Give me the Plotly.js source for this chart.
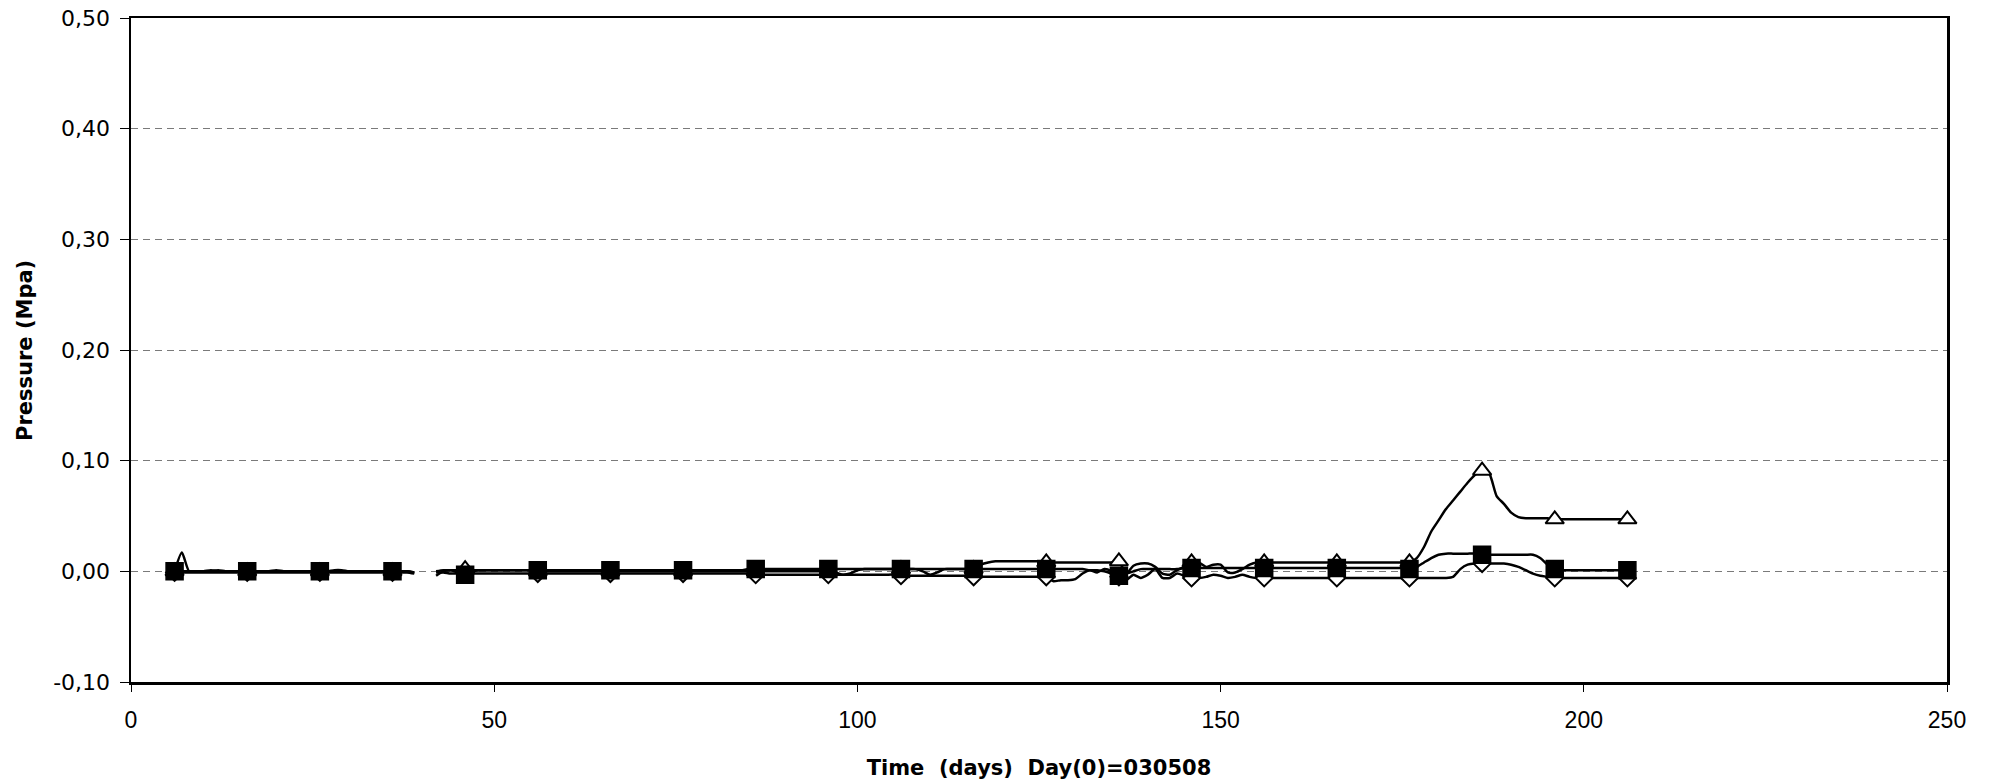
<!DOCTYPE html>
<html>
<head>
<meta charset="utf-8">
<script src="https://cdn.plot.ly/plotly-3.0.1.min.js"></script>
<style>html,body{margin:0;padding:0;background:#fff;}#chart{width:1995px;height:783px;}</style>
</head>
<body>
<div id="chart"></div>
<script>
// Day numbers (x) — daily readings, day 6 to 206
const days = [
  6,7,8,9,10,11,12,13,14,15,
  16,17,18,19,20,21,22,23,24,25,
  26,27,28,29,30,31,32,33,34,35,
  36,37,38,39,40,41,42,43,44,45,
  46,47,48,49,50,51,52,53,54,55,
  56,57,58,59,60,61,62,63,64,65,
  66,67,68,69,70,71,72,73,74,75,
  76,77,78,79,80,81,82,83,84,85,
  86,87,88,89,90,91,92,93,94,95,
  96,97,98,99,100,101,102,103,104,105,
  106,107,108,109,110,111,112,113,114,115,
  116,117,118,119,120,121,122,123,124,125,
  126,127,128,129,130,131,132,133,134,135,
  136,137,138,139,140,141,142,143,144,145,
  146,147,148,149,150,151,152,153,154,155,
  156,157,158,159,160,161,162,163,164,165,
  166,167,168,169,170,171,172,173,174,175,
  176,177,178,179,180,181,182,183,184,185,
  186,187,188,189,190,191,192,193,194,195,
  196,197,198,199,200,201,202,203,204,205,
  206
];

// Series drawn with filled squares (MPa)
const seriesSquare = [
  0.000,0.000,0.000,0.000,0.000,0.001,0.000,0.000,0.000,0.000,
  0.000,0.000,0.000,0.000,0.001,0.000,0.000,0.000,0.000,0.000,
  0.000,0.000,0.001,0.001,0.000,0.000,0.000,0.000,0.000,0.000,
  0.000,0.000,0.000,-0.001,null,null,-0.001,-0.001,-0.002,-0.002,
  -0.003,0.000,0.001,0.001,0.001,0.001,0.001,0.001,0.001,0.001,
  0.001,0.001,0.001,0.001,0.001,0.001,0.001,0.001,0.001,0.001,
  0.001,0.001,0.001,0.001,0.001,0.001,0.001,0.001,0.001,0.001,
  0.001,0.001,0.001,0.001,0.001,0.001,0.001,0.001,0.001,0.002,
  0.002,0.002,0.002,0.002,0.002,0.002,0.002,0.002,0.002,0.002,
  0.002,0.002,0.002,0.002,0.002,0.002,0.002,0.002,0.002,0.002,
  0.002,0.002,0.002,0.002,0.002,0.002,0.002,0.002,0.002,0.002,
  0.002,0.002,0.002,0.002,0.002,0.002,0.002,0.002,0.002,0.002,
  0.002,0.002,0.002,0.002,0.002,0.002,0.001,0.001,0.000,-0.002,
  -0.004,-0.002,0.000,0.002,0.002,0.002,0.002,0.002,0.002,0.003,
  0.003,0.003,0.003,0.003,0.003,0.003,0.003,0.003,0.003,0.003,
  0.003,0.003,0.003,0.003,0.003,0.003,0.003,0.003,0.003,0.003,
  0.003,0.003,0.003,0.003,0.003,0.003,0.003,0.003,0.003,0.003,
  0.002,0.004,0.008,0.012,0.015,0.016,0.016,0.016,0.016,0.016,
  0.015,0.015,0.015,0.015,0.015,0.015,0.015,0.015,0.012,0.006,
  0.002,0.001,0.001,0.001,0.001,0.001,0.001,0.001,0.001,0.001,
  0.001
];

// Series drawn with open triangles (MPa)
const seriesTriangle = [
  0.000,0.017,0.000,0.000,0.000,0.000,0.001,0.000,0.000,0.000,
  0.000,0.000,0.000,0.000,0.000,0.000,0.000,0.000,0.000,0.000,
  0.000,0.000,0.000,0.000,0.000,0.000,0.000,0.000,0.000,0.000,
  0.000,0.000,0.000,-0.001,null,null,0.000,0.001,0.001,0.001,
  0.002,0.001,0.001,0.001,0.001,0.001,0.001,0.001,0.001,0.001,
  0.000,0.000,0.000,0.000,0.000,0.000,0.000,0.000,0.000,0.000,
  0.000,0.000,0.000,0.000,0.000,0.000,0.000,0.000,0.000,0.000,
  0.000,0.000,0.000,0.000,0.000,0.000,0.000,0.000,0.000,0.000,
  0.000,0.000,0.000,0.000,0.000,0.000,0.000,0.000,0.000,0.000,
  0.000,-0.001,-0.003,-0.002,0.001,0.002,0.002,0.002,0.002,0.002,
  0.002,0.002,0.002,0.000,-0.003,-0.001,0.002,0.002,0.002,0.002,
  0.002,0.006,0.008,0.009,0.009,0.009,0.009,0.009,0.009,0.009,
  0.008,0.008,0.008,0.008,0.008,0.008,0.008,0.008,0.008,0.008,
  0.009,-0.002,0.005,0.007,0.007,0.004,-0.002,-0.003,0.001,0.004,
  0.008,0.008,0.004,0.006,0.006,-0.001,-0.001,0.002,0.006,0.008,
  0.008,0.008,0.008,0.008,0.008,0.008,0.008,0.008,0.008,0.008,
  0.008,0.008,0.008,0.008,0.008,0.008,0.008,0.008,0.008,0.008,
  0.008,0.012,0.022,0.036,0.046,0.056,0.064,0.072,0.080,0.087,
  0.091,0.088,0.068,0.061,0.053,0.049,0.048,0.048,0.048,0.048,
  0.047,0.047,0.047,0.047,0.047,0.047,0.047,0.047,0.047,0.047,
  0.047
];

// Series drawn with open diamonds (MPa)
const seriesDiamond = [
  -0.001,-0.001,-0.001,-0.001,-0.001,-0.001,-0.001,-0.001,-0.001,-0.001,
  -0.001,-0.001,-0.001,-0.001,-0.001,-0.001,-0.001,-0.001,-0.001,-0.001,
  -0.001,-0.001,-0.001,-0.001,-0.001,-0.001,-0.001,-0.001,-0.001,-0.001,
  -0.001,-0.001,-0.001,-0.002,null,null,-0.004,0.000,0.001,-0.001,
  -0.002,-0.002,-0.002,-0.002,-0.002,-0.002,-0.002,-0.002,-0.002,-0.002,
  -0.002,-0.002,-0.002,-0.002,-0.002,-0.002,-0.002,-0.002,-0.002,-0.002,
  -0.002,-0.002,-0.002,-0.002,-0.002,-0.002,-0.002,-0.002,-0.002,-0.002,
  -0.002,-0.002,-0.002,-0.002,-0.002,-0.002,-0.002,-0.002,-0.002,-0.002,
  -0.003,-0.003,-0.003,-0.003,-0.003,-0.003,-0.003,-0.003,-0.003,-0.003,
  -0.003,-0.003,-0.003,-0.003,-0.003,-0.003,-0.003,-0.003,-0.003,-0.003,
  -0.004,-0.004,-0.004,-0.004,-0.004,-0.004,-0.004,-0.004,-0.004,-0.004,
  -0.005,-0.005,-0.005,-0.005,-0.005,-0.005,-0.005,-0.005,-0.005,-0.005,
  -0.005,-0.009,-0.008,-0.008,-0.007,-0.002,0.001,-0.001,0.002,0.000,
  -0.005,-0.008,-0.003,-0.006,-0.003,0.002,-0.006,-0.006,-0.002,-0.004,
  -0.006,-0.006,-0.005,-0.003,-0.004,-0.006,-0.005,-0.003,-0.005,-0.006,
  -0.006,-0.006,-0.006,-0.006,-0.006,-0.006,-0.006,-0.006,-0.006,-0.006,
  -0.006,-0.006,-0.006,-0.006,-0.006,-0.006,-0.006,-0.006,-0.006,-0.006,
  -0.006,-0.006,-0.006,-0.006,-0.006,-0.006,-0.005,0.002,0.006,0.007,
  0.007,0.007,0.007,0.007,0.006,0.004,0.001,-0.002,-0.004,-0.005,
  -0.006,-0.006,-0.006,-0.006,-0.006,-0.006,-0.006,-0.006,-0.006,-0.006,
  -0.006
];

const yTickVals = [-0.1, 0.0, 0.1, 0.2, 0.3, 0.4, 0.5];
const yTickText = ['-0,10', '0,00', '0,10', '0,20', '0,30', '0,40', '0,50'];
const xTickVals = [0, 50, 100, 150, 200, 250];

// markers are shown every 10th day, starting at day 6
const markerStep = 10;
function markerPick(arr) {
  const xs = [], ys = [];
  for (let i = 0; i < days.length; i += markerStep) {
    if (arr[i] !== null) { xs.push(days[i]); ys.push(arr[i]); }
  }
  return {x: xs, y: ys};
}

const WIDE = 'DejaVu Sans, Verdana, sans-serif';
const NARROW = 'Liberation Sans Narrow, Arial Narrow, Liberation Sans, Arial, sans-serif';
const lineStyle = {color: '#000', width: 2.5, shape: 'spline', smoothing: 0.6};

const traces = [];
[seriesDiamond, seriesTriangle, seriesSquare].forEach(s => {
  traces.push({x: days, y: s, type: 'scatter', mode: 'lines', line: lineStyle,
               connectgaps: false, hoverinfo: 'skip', showlegend: false});
});
const mD = markerPick(seriesDiamond);
traces.push({x: mD.x, y: mD.y, type: 'scatter', mode: 'markers', showlegend: false,
  marker: {symbol: 'diamond', size: 13, color: '#fff', line: {color: '#000', width: 2}}});
const mT = markerPick(seriesTriangle);
traces.push({x: mT.x, y: mT.y, type: 'scatter', mode: 'markers', showlegend: false,
  marker: {symbol: 'triangle-up', size: 16, color: '#fff', line: {color: '#000', width: 2}}});
const mS = markerPick(seriesSquare);
traces.push({x: mS.x, y: mS.y, type: 'scatter', mode: 'markers', showlegend: false,
  marker: {symbol: 'square', size: 17, color: '#000', line: {color: '#000', width: 1.5}}});

const layout = {
  width: 1995, height: 783,
  margin: {l: 131, r: 48, t: 18, b: 101, pad: 0},
  paper_bgcolor: '#fff', plot_bgcolor: '#fff',
  showlegend: false,
  font: {family: WIDE, color: '#000', size: 20},
  xaxis: {
    range: [0, 250], tickvals: xTickVals, ticks: 'outside', ticklen: 7, tickwidth: 1, tickcolor: '#000',
    showline: true, mirror: true, linecolor: '#000', linewidth: 2.5,
    showgrid: false, zeroline: false, ticklabelstandoff: 9,
    tickfont: {family: NARROW, size: 23, color: '#000'},
    title: {text: 'Time\u00a0\u00a0(days)\u00a0\u00a0Day(0)=030508', standoff: 28,
            font: {family: WIDE, size: 21, color: '#000', weight: 'bold'}}
  },
  yaxis: {
    range: [-0.1, 0.5], tickvals: yTickVals, ticktext: yTickText,
    ticks: 'outside', ticklen: 9, tickwidth: 1, tickcolor: '#000',
    showline: true, mirror: true, linecolor: '#000', linewidth: 2.5,
    showgrid: true, gridcolor: '#7a7a7a', gridwidth: 1, griddash: '7px,5px',
    zeroline: false, ticklabelstandoff: 5,
    tickfont: {family: WIDE, size: 22, color: '#000'}
  },
  annotations: [{
    text: 'Pressure (Mpa)', xref: 'paper', yref: 'paper', x: -0.0584, y: 0.5,
    xanchor: 'center', yanchor: 'middle', textangle: -90, showarrow: false,
    font: {family: WIDE, size: 21, color: '#000', weight: 'bold'}
  }]
};

Plotly.newPlot('chart', traces, layout, {displayModeBar: false, staticPlot: true});
</script>
</body>
</html>
